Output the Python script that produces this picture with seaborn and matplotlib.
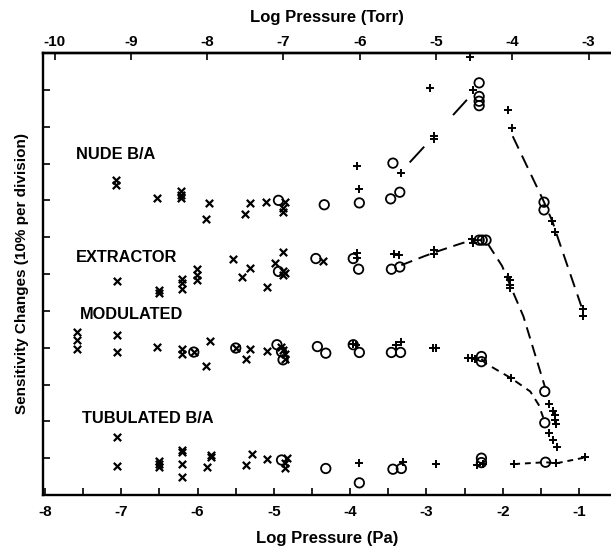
import numpy as np
import pandas as pd
import matplotlib
matplotlib.use("Agg")
import matplotlib.pyplot as plt
import seaborn as sns

# ---------------- data (log Pa, sensitivity in divisions) ----------------
# NUDE B/A
nude_x_pa = [-7.07, -7.07, -6.53, -6.22, -6.22, -6.22, -5.85, -5.89, -5.38, -5.31, -5.10, -4.86, -4.88, -4.88]
nude_x_s = [8.56, 8.42, 8.06, 8.24, 8.15, 8.06, 7.93, 7.49, 7.64, 7.93, 7.96, 7.96, 7.79, 7.67]
nude_o_pa = [-4.94, -4.34, -3.88, -3.44, -3.47, -3.35, -2.31, -2.31, -2.31, -2.31, -1.46, -1.46]
nude_o_s = [8.00, 7.88, 7.93, 9.01, 8.04, 8.22, 11.19, 10.82, 10.69, 10.57, 7.95, 7.74]
nude_p_pa = [-3.91, -3.89, -3.33, -2.90, -2.90, -2.95, -2.43, -2.39, -1.93, -1.88, -1.35, -1.31, -0.945, -0.945]
nude_p_s = [8.92, 8.32, 8.74, 9.76, 9.66, 11.05, 11.89, 11.00, 10.46, 9.96, 7.43, 7.13, 5.05, 4.85]
nude_rise_pa = [-3.22, -2.90, -2.47]
nude_rise_s = [9.03, 9.75, 10.73]
nude_fall_pa = [-1.87, -1.47, -1.35, -1.27, -0.97]
nude_fall_s = [9.74, 8.00, 7.43, 6.93, 5.12]

# EXTRACTOR
ext_x_pa = [-7.05, -6.51, -6.51, -6.21, -6.21, -6.20, -6.01, -6.01, -6.01, -5.53, -5.42, -5.31, -5.09,
            -4.99, -4.88, -4.88, -4.88, -4.86, -4.35]
ext_x_s = [5.82, 5.57, 5.48, 5.86, 5.75, 5.59, 6.13, 5.98, 5.84, 6.40, 5.93, 6.16, 5.64,
           6.31, 6.61, 6.07, 5.98, 6.02, 6.34]
ext_o_pa = [-4.94, -4.45, -3.96, -3.89, -3.46, -3.35, -2.31, -2.27, -2.22, -1.45]
ext_o_s = [6.07, 6.42, 6.42, 6.13, 6.13, 6.19, 6.92, 6.92, 6.92, 2.81]
ext_p_pa = [-3.91, -3.91, -3.43, -3.36, -2.90, -2.90, -2.41, -2.39, -1.93, -1.90, -1.90, -1.90,
            -1.39, -1.34, -1.32, -1.32, -1.30]
ext_p_s = [6.58, 6.44, 6.55, 6.52, 6.64, 6.54, 6.95, 6.85, 5.93, 5.84, 5.71, 5.62,
           2.47, 2.29, 2.17, 2.04, 1.93]
ext_curve_pa = [-3.33, -3.02, -2.82, -2.56, -2.40, -2.25, -2.19, -2.01, -1.86, -1.73, -1.45]
ext_curve_s = [6.24, 6.49, 6.64, 6.82, 6.92, 6.92, 6.80, 6.22, 5.48, 4.85, 2.95]

# MODULATED
mod_x_pa = [-7.58, -7.58, -7.58, -7.06, -7.05, -6.53, -6.21, -6.20, -6.05, -5.84, -5.89, -5.50,
            -5.31, -5.36, -5.09, -4.91, -4.88, -4.85, -4.85]
mod_x_s = [4.42, 4.21, 3.96, 4.35, 3.87, 4.01, 3.96, 3.82, 3.88, 4.17, 3.51, 3.99,
           3.97, 3.70, 3.91, 4.03, 3.94, 3.82, 3.69]
mod_o_pa = [-6.05, -5.50, -4.96, -4.90, -4.88, -4.43, -4.32, -3.96, -3.88, -3.46, -3.34, -2.28, -2.28, -1.45]
mod_o_s = [3.88, 3.99, 4.08, 3.89, 3.67, 4.03, 3.85, 4.08, 3.87, 3.87, 3.87, 3.76, 3.62, 1.96]
mod_p_pa = [-3.96, -3.92, -3.40, -3.33, -2.91, -2.88, -2.45, -2.41, -2.36, -1.89, -1.40, -1.34, -1.29]
mod_p_s = [4.10, 4.08, 4.08, 4.15, 3.99, 3.99, 3.71, 3.71, 3.70, 3.17, 1.69, 1.49, 1.30]
mod_curve_pa = [-2.28, -2.23, -2.04, -1.89, -1.64, -1.53, -1.47]
mod_curve_s = [3.70, 3.58, 3.35, 3.17, 2.81, 2.45, 2.10]

# TUBULATED B/A
tub_x_pa = [-7.05, -7.05, -6.51, -6.51, -6.51, -6.20, -6.20, -6.20, -6.20, -5.88, -5.83, -5.83,
            -5.37, -5.29, -5.09, -4.86, -4.86, -4.83]
tub_x_s = [1.58, 0.80, 0.93, 0.84, 0.77, 1.22, 1.16, 0.83, 0.50, 0.77, 1.09, 1.02,
           0.82, 1.11, 0.97, 0.88, 0.72, 1.00]
tub_o_pa = [-4.90, -4.32, -3.88, -3.44, -3.33, -2.28, -2.28, -1.44]
tub_o_s = [0.95, 0.72, 0.33, 0.70, 0.72, 1.00, 0.88, 0.89]
tub_p_pa = [-3.88, -3.31, -2.87, -2.34, -2.26, -1.85, -1.30, -0.92]
tub_p_s = [0.86, 0.89, 0.84, 0.82, 0.84, 0.84, 0.86, 1.02]
tub_curve_pa = [-1.85, -1.44, -1.30, -0.92]
tub_curve_s = [0.84, 0.89, 0.86, 1.02]

group_names = ["NUDE B/A", "EXTRACTOR", "MODULATED", "TUBULATED B/A"]
label_pa = [-7.594, -7.594, -7.54, -7.52]
label_s = [9.24, 6.44, 4.89, 2.07]

pa_ticks = [-8, -7, -6, -5, -4, -3, -2, -1]
torr_ticks = [-10, -9, -8, -7, -6, -5, -4, -3]
PA_PER_TORR_LOG = 2.125

# ---------------- build long tables ----------------
rows = []
for g, sets in zip(group_names, [
        [("x", nude_x_pa, nude_x_s), ("o", nude_o_pa, nude_o_s), ("+", nude_p_pa, nude_p_s)],
        [("x", ext_x_pa, ext_x_s), ("o", ext_o_pa, ext_o_s), ("+", ext_p_pa, ext_p_s)],
        [("x", mod_x_pa, mod_x_s), ("o", mod_o_pa, mod_o_s), ("+", mod_p_pa, mod_p_s)],
        [("x", tub_x_pa, tub_x_s), ("o", tub_o_pa, tub_o_s), ("+", tub_p_pa, tub_p_s)]]):
    for m, xs, ys in sets:
        for a, b in zip(xs, ys):
            rows.append({"group": g, "mark": m, "pa": a, "s": b})
df = pd.DataFrame(rows)

sns.set_theme(style="ticks")
plt.rcParams["font.family"] = ["Liberation Sans", "DejaVu Sans"]
plt.rcParams["font.weight"] = "bold"
plt.rcParams["axes.labelweight"] = "bold"
plt.rcParams["axes.unicode_minus"] = False
for k in ["text.color", "axes.labelcolor", "xtick.color", "ytick.color", "axes.edgecolor"]:
    plt.rcParams[k] = "black"

fig = plt.figure(figsize=(6.11, 5.54), dpi=100)
ax = fig.add_axes([43 / 611, 1 - 495 / 554, 1 - 43 / 611, (495 - 53) / 554])

# dashed curves
curve_kw = dict(color="black", linewidth=1.4, sort=False, estimator=None, legend=False, ax=ax)
sns.lineplot(x=nude_rise_pa, y=nude_rise_s, linestyle=(0, (11, 22)), **curve_kw)
sns.lineplot(x=nude_fall_pa, y=nude_fall_s, linestyle=(0, (7, 4)), **curve_kw)
sns.lineplot(x=ext_curve_pa, y=ext_curve_s, linestyle=(0, (6, 3.5)), **curve_kw)
sns.lineplot(x=mod_curve_pa, y=mod_curve_s, linestyle=(0, (4, 3)), **curve_kw)
sns.lineplot(x=tub_curve_pa, y=tub_curve_s, linestyle=(0, (3, 2.5)), **curve_kw)

# markers
dx = df[df.mark == "x"]
do = df[df.mark == "o"]
dp = df[df.mark == "+"]
sns.scatterplot(data=dx, x="pa", y="s", marker="x", s=28, color="black", linewidth=1.6, legend=False, ax=ax)
sns.scatterplot(data=dp, x="pa", y="s", marker="+", s=36, color="black", linewidth=1.4, legend=False, ax=ax)
sns.scatterplot(data=do, x="pa", y="s", marker="o", s=46, facecolor="none", edgecolor="black",
                linewidth=1.3, legend=False, ax=ax)

for name, a, b in zip(group_names, label_pa, label_s):
    ax.text(a, b, name, fontsize=11.8, fontweight="bold", ha="left", va="center", color="black")

ax.set_xlim(-8.026, -0.582)
ax.set_ylim(0, 12)
ax.set_xticks(pa_ticks)
ax.set_xticklabels([str(t) for t in pa_ticks])
ax.set_xticks(np.arange(-7.5, -0.6, 1.0), minor=True)
ax.set_yticks(np.arange(0, 13, 1))
ax.set_yticklabels([])
ax.tick_params(axis="both", which="both", direction="in", length=5, width=1.2, colors="black")
ax.tick_params(axis="x", which="major", pad=7, labelsize=11)
ax.tick_params(axis="y", which="both", left=True, right=False)
for sp in ["left", "bottom", "top"]:
    ax.spines[sp].set_linewidth(1.7)
    ax.spines[sp].set_color("black")
ax.spines["right"].set_visible(False)

ax.set_xlabel("Log Pressure (Pa)", fontsize=12, fontweight="bold", labelpad=9, color="black")
ax.set_ylabel("Sensitivity Changes (10% per division)", fontsize=11, fontweight="bold", color="black")
ax.yaxis.set_label_coords(-0.024, 0.5)

top = ax.secondary_xaxis("top", functions=(lambda p: p - PA_PER_TORR_LOG, lambda t: t + PA_PER_TORR_LOG))
top.set_xticks(torr_ticks)
top.set_xticklabels([str(t) for t in torr_ticks])
top.tick_params(direction="in", length=5, width=1.2, pad=3, labelsize=11, colors="black")
top.spines["top"].set_linewidth(1.7)
top.set_xlabel("Log Pressure (Torr)", fontsize=12, fontweight="bold", labelpad=9, color="black")

fig.savefig("out.png", dpi=100)
